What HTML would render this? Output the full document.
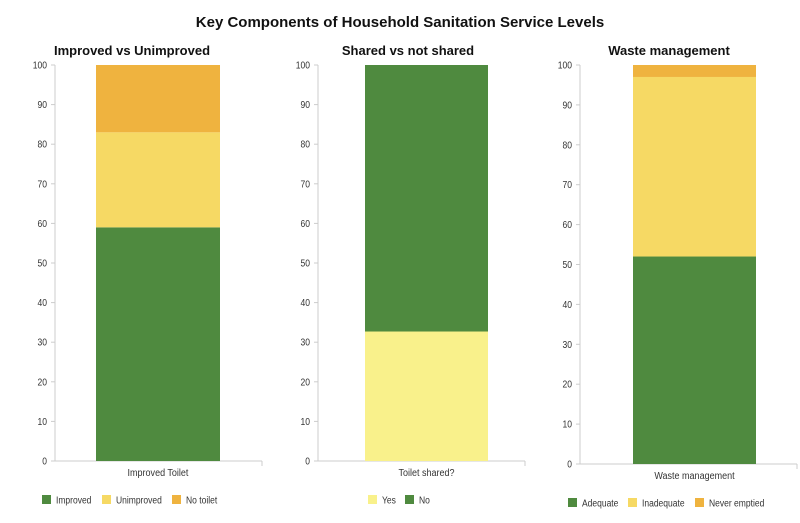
<!DOCTYPE html>
<html><head><meta charset="utf-8"><style>
body{margin:0;background:#fff;font-family:"Liberation Sans",Arial,sans-serif}
</style></head><body>
<svg id="c" width="800" height="518" xmlns="http://www.w3.org/2000/svg">
<text x="400" y="27" text-anchor="middle" font-size="15" font-weight="bold" fill="#111">Key Components of Household Sanitation Service Levels</text>
</svg>
<script>
const titles=["Improved vs Unimproved","Shared vs not shared","Waste management"];
const categories=["Improved Toilet","Toilet shared?","Waste management"];
const seriesNames1=["Improved","Unimproved","No toilet"];
const values1=[59,24,17];
const seriesNames2=["Yes","No"];
const values2=[32.7,67.3];
const seriesNames3=["Adequate","Inadequate","Never emptied"];
const values3=[52,45,3];
const yTicks=[0,10,20,30,40,50,60,70,80,90,100];
const colors1=["#4f8a3f","#f6d964","#efb33f"];
const colors2=["#f9f18b","#4f8a3f"];
const colors3=["#4f8a3f","#f6d964","#efb33f"];
const svg=document.getElementById('c');
const NS="http://www.w3.org/2000/svg";
function mk(t,a,txt){const e=document.createElementNS(NS,t);for(const k in a)e.setAttribute(k,a[k]);if(txt!==undefined)e.textContent=txt;svg.appendChild(e);return e;}
function squeeze(el,f){const w=el.getComputedTextLength();el.setAttribute('textLength',(w*f).toFixed(1));el.setAttribute('lengthAdjust','spacingAndGlyphs');}
const panels=[
 {ax:55,xr:262,y0:461,y1:65,bx:96,bw:124,tx:132,ly:500,lx:[42,102,172],names:seriesNames1,vals:values1,cols:colors1},
 {ax:318,xr:525,y0:461,y1:65,bx:365,bw:123,tx:408,ly:500,lx:[368,405],names:seriesNames2,vals:values2,cols:colors2},
 {ax:580,xr:797,y0:464,y1:65,bx:633,bw:123,tx:669,ly:503,lx:[568,628,695],names:seriesNames3,vals:values3,cols:colors3}
];
panels.forEach((p,i)=>{
 const y=v=>p.y0-(p.y0-p.y1)*v/100;
 let t=mk('text',{x:p.tx,y:55,'text-anchor':'middle','font-size':13,'font-weight':'bold',fill:'#111'},titles[i]);
 
 
 let al=mk('line',{x1:p.ax,x2:p.ax,y1:p.y1,y2:p.y0,stroke:'#ccc'});
 
 
 let xl=mk('line',{x1:p.ax,x2:p.xr,y1:p.y0,y2:p.y0,stroke:'#ccc'});
 
 
 mk('line',{x1:p.xr,x2:p.xr,y1:p.y0,y2:p.y0+5,stroke:'#ccc'});
 yTicks.forEach(v=>{
  mk('line',{x1:p.ax-4,x2:p.ax,y1:y(v),y2:y(v),stroke:'#ccc'});
  let l=mk('text',{x:p.ax-8,y:y(v)+3.5,'text-anchor':'end','font-size':10,fill:'#333'},v);
  
  
  squeeze(l,0.85);
 });
 let acc=0;
 p.vals.forEach((v,j)=>{
  const r=mk('rect',{x:p.bx,y:y(acc+v),width:p.bw,height:y(acc)-y(acc+v),fill:p.cols[j]});
  
  
  acc+=v;
 });
 let c=mk('text',{x:p.bx+p.bw/2,y:p.y0+15,'text-anchor':'middle','font-size':10,fill:'#333'},categories[i]);
 
 
 squeeze(c,0.9);
 p.names.forEach((n,j)=>{
  const g=document.createElementNS(NS,'g');svg.appendChild(g);
  
  
  const r=document.createElementNS(NS,'rect');
  r.setAttribute('x',p.lx[j]);r.setAttribute('y',p.ly-5);r.setAttribute('width',9);r.setAttribute('height',9);r.setAttribute('fill',p.cols[j]);
  g.appendChild(r);
  const tx=document.createElementNS(NS,'text');
  tx.setAttribute('x',p.lx[j]+14);tx.setAttribute('y',p.ly+3.5);tx.setAttribute('font-size',10);tx.setAttribute('fill','#333');tx.textContent=n;
  g.appendChild(tx);
  squeeze(tx,0.85);
 });
});
</script>
</body></html>
